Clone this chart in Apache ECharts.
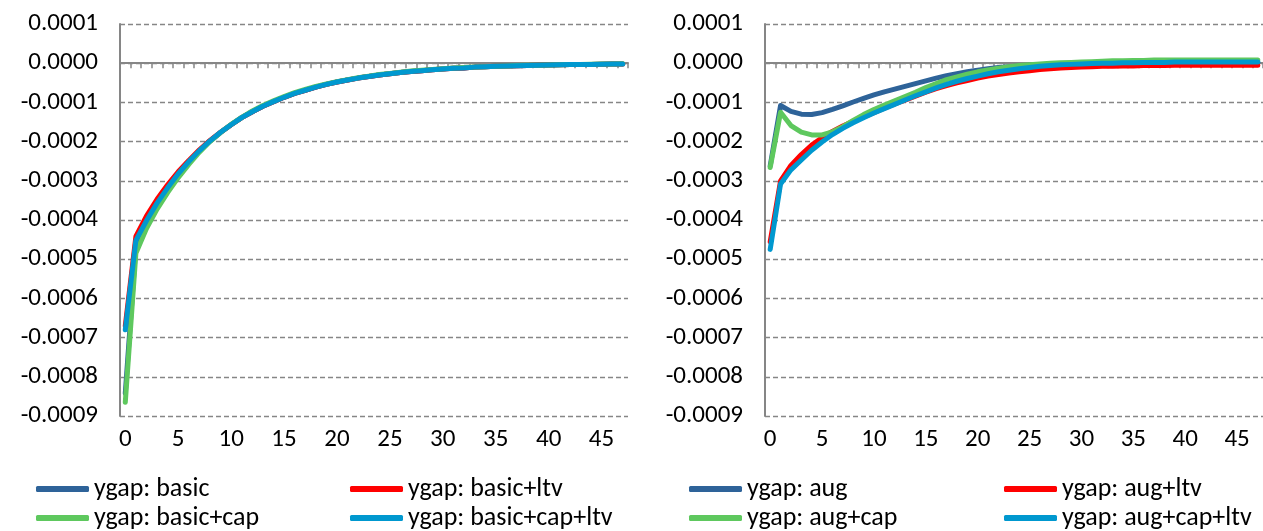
<!DOCTYPE html>
<html>
<head>
<meta charset="utf-8">
<script src="https://cdn.jsdelivr.net/npm/echarts@6/dist/echarts.min.js"></script>
<style>
  html, body { margin: 0; padding: 0; background: #fff; overflow: hidden; }
  #chart { width: 1263px; height: 531px; }
</style>
</head>
<body>
<div id="chart"></div>
<script>
// Periods after the shock (0..47)
const steps = ['0','1','2','3','4','5','6','7','8','9','10','11','12','13','14','15','16','17','18','19',
  '20','21','22','23','24','25','26','27','28','29','30','31','32','33','34','35','36','37','38','39',
  '40','41','42','43','44','45','46','47'];

// Output gap responses, basic model
const ygapBasic = [-8.42e-4,-4.65e-4,-4.08e-4,-3.62e-4,-3.21e-4,-2.85e-4,-2.52e-4,-2.24e-4,-1.99e-4,-1.77e-4,
  -1.57e-4,-1.39e-4,-1.24e-4,-1.10e-4,-0.98e-4,-0.87e-4,-0.77e-4,-0.69e-4,-0.61e-4,-0.54e-4,
  -0.48e-4,-0.43e-4,-0.38e-4,-0.34e-4,-0.30e-4,-0.27e-4,-0.24e-4,-0.21e-4,-0.19e-4,-0.17e-4,
  -0.15e-4,-0.13e-4,-0.12e-4,-0.10e-4,-0.09e-4,-0.08e-4,-0.07e-4,-0.065e-4,-0.06e-4,-0.05e-4,
  -0.045e-4,-0.04e-4,-0.035e-4,-0.03e-4,-0.03e-4,-0.025e-4,-0.02e-4,-0.02e-4];
const ygapBasicLtv = [-6.70e-4,-4.42e-4,-3.90e-4,-3.47e-4,-3.10e-4,-2.77e-4,-2.48e-4,-2.21e-4,-1.97e-4,-1.76e-4,
  -1.57e-4,-1.39e-4,-1.24e-4,-1.10e-4,-0.98e-4,-0.87e-4,-0.77e-4,-0.69e-4,-0.61e-4,-0.54e-4,
  -0.48e-4,-0.43e-4,-0.38e-4,-0.34e-4,-0.30e-4,-0.27e-4,-0.24e-4,-0.21e-4,-0.19e-4,-0.17e-4,
  -0.15e-4,-0.13e-4,-0.12e-4,-0.10e-4,-0.09e-4,-0.08e-4,-0.07e-4,-0.065e-4,-0.06e-4,-0.05e-4,
  -0.045e-4,-0.04e-4,-0.035e-4,-0.03e-4,-0.03e-4,-0.025e-4,-0.02e-4,-0.02e-4];
const ygapBasicCap = [-8.65e-4,-4.85e-4,-4.22e-4,-3.72e-4,-3.30e-4,-2.92e-4,-2.58e-4,-2.27e-4,-2.00e-4,-1.77e-4,
  -1.56e-4,-1.38e-4,-1.22e-4,-1.08e-4,-0.96e-4,-0.85e-4,-0.75e-4,-0.67e-4,-0.59e-4,-0.53e-4,
  -0.47e-4,-0.42e-4,-0.37e-4,-0.33e-4,-0.29e-4,-0.26e-4,-0.23e-4,-0.20e-4,-0.18e-4,-0.16e-4,
  -0.14e-4,-0.12e-4,-0.11e-4,-0.10e-4,-0.09e-4,-0.08e-4,-0.07e-4,-0.06e-4,-0.055e-4,-0.05e-4,
  -0.045e-4,-0.04e-4,-0.035e-4,-0.03e-4,-0.025e-4,-0.02e-4,-0.02e-4,-0.015e-4];
const ygapBasicCapLtv = [-6.80e-4,-4.52e-4,-4.02e-4,-3.57e-4,-3.18e-4,-2.82e-4,-2.51e-4,-2.23e-4,-1.98e-4,-1.76e-4,
  -1.57e-4,-1.39e-4,-1.24e-4,-1.10e-4,-0.98e-4,-0.87e-4,-0.77e-4,-0.69e-4,-0.61e-4,-0.54e-4,
  -0.48e-4,-0.43e-4,-0.38e-4,-0.34e-4,-0.30e-4,-0.27e-4,-0.24e-4,-0.21e-4,-0.19e-4,-0.17e-4,
  -0.15e-4,-0.13e-4,-0.12e-4,-0.10e-4,-0.09e-4,-0.08e-4,-0.07e-4,-0.065e-4,-0.06e-4,-0.05e-4,
  -0.045e-4,-0.04e-4,-0.035e-4,-0.03e-4,-0.03e-4,-0.025e-4,-0.02e-4,-0.02e-4];

// Output gap responses, augmented model
const ygapAug = [-2.62e-4,-1.08e-4,-1.23e-4,-1.30e-4,-1.31e-4,-1.26e-4,-1.18e-4,-1.09e-4,-0.99e-4,-0.90e-4,
  -0.81e-4,-0.73e-4,-0.66e-4,-0.59e-4,-0.52e-4,-0.45e-4,-0.38e-4,-0.32e-4,-0.27e-4,-0.22e-4,
  -0.18e-4,-0.14e-4,-0.11e-4,-0.09e-4,-0.07e-4,-0.05e-4,-0.04e-4,-0.03e-4,-0.02e-4,-0.01e-4,
  0.00e-4,0.00e-4,0.01e-4,0.01e-4,0.01e-4,0.02e-4,0.02e-4,0.02e-4,0.02e-4,0.02e-4,
  0.02e-4,0.02e-4,0.02e-4,0.02e-4,0.02e-4,0.02e-4,0.02e-4,0.02e-4];
const ygapAugLtv = [-4.55e-4,-3.00e-4,-2.61e-4,-2.33e-4,-2.09e-4,-1.90e-4,-1.74e-4,-1.60e-4,-1.48e-4,-1.37e-4,
  -1.26e-4,-1.15e-4,-1.04e-4,-0.94e-4,-0.84e-4,-0.74e-4,-0.65e-4,-0.57e-4,-0.50e-4,-0.44e-4,
  -0.38e-4,-0.33e-4,-0.29e-4,-0.25e-4,-0.22e-4,-0.19e-4,-0.16e-4,-0.14e-4,-0.12e-4,-0.11e-4,
  -0.10e-4,-0.09e-4,-0.08e-4,-0.08e-4,-0.07e-4,-0.07e-4,-0.06e-4,-0.06e-4,-0.06e-4,-0.05e-4,
  -0.05e-4,-0.05e-4,-0.05e-4,-0.05e-4,-0.05e-4,-0.05e-4,-0.05e-4,-0.05e-4];
const ygapAugCap = [-2.66e-4,-1.25e-4,-1.59e-4,-1.76e-4,-1.83e-4,-1.83e-4,-1.75e-4,-1.62e-4,-1.46e-4,-1.31e-4,
  -1.18e-4,-1.07e-4,-0.96e-4,-0.85e-4,-0.74e-4,-0.62e-4,-0.52e-4,-0.42e-4,-0.35e-4,-0.28e-4,
  -0.22e-4,-0.17e-4,-0.13e-4,-0.09e-4,-0.06e-4,-0.04e-4,-0.02e-4,0.00e-4,0.01e-4,0.02e-4,
  0.03e-4,0.04e-4,0.05e-4,0.06e-4,0.06e-4,0.07e-4,0.07e-4,0.08e-4,0.08e-4,0.08e-4,
  0.08e-4,0.08e-4,0.08e-4,0.08e-4,0.08e-4,0.08e-4,0.08e-4,0.08e-4];
const ygapAugCapLtv = [-4.75e-4,-3.08e-4,-2.72e-4,-2.47e-4,-2.22e-4,-2.01e-4,-1.82e-4,-1.66e-4,-1.52e-4,-1.39e-4,
  -1.27e-4,-1.16e-4,-1.05e-4,-0.94e-4,-0.83e-4,-0.73e-4,-0.63e-4,-0.54e-4,-0.46e-4,-0.39e-4,
  -0.33e-4,-0.27e-4,-0.22e-4,-0.18e-4,-0.14e-4,-0.11e-4,-0.08e-4,-0.06e-4,-0.04e-4,-0.03e-4,
  -0.02e-4,-0.01e-4,0.00e-4,0.00e-4,0.01e-4,0.01e-4,0.02e-4,0.02e-4,0.02e-4,0.03e-4,
  0.03e-4,0.03e-4,0.03e-4,0.03e-4,0.03e-4,0.03e-4,0.03e-4,0.03e-4];

const seriesNamesLeft = ['ygap: basic', 'ygap: basic+ltv', 'ygap: basic+cap', 'ygap: basic+cap+ltv'];
const seriesNamesRight = ['ygap: aug', 'ygap: aug+ltv', 'ygap: aug+cap', 'ygap: aug+cap+ltv'];
const colors = ['#2e6399', '#ff0000', '#5ec85e', '#0098cf'];

const FONT = 'Carlito, Lato, sans-serif';
const FS_AXIS = 25;
const FS_LEGEND = 26;
const AXIS_GRAY = '#868686';

const chart = echarts.init(document.getElementById('chart'), null, { renderer: 'canvas' });

function yAxisFor(gridIndex) {
  return {
    type: 'value', gridIndex,
    min: -0.0009, max: 0.0001, interval: 0.0001,
    axisLine: { show: true, lineStyle: { color: AXIS_GRAY, width: 2 } },
    axisTick: { show: false },
    axisLabel: {
      color: '#000', fontFamily: FONT, fontSize: FS_AXIS, margin: 22,
      formatter: v => (Math.abs(v) < 1e-12 ? 0 : v).toFixed(4)
    },
    splitLine: { show: true, lineStyle: { color: AXIS_GRAY, width: 1.3, type: [5, 3] } }
  };
}

// category axis drawn along y = 0, carrying the tick marks
function zeroAxisFor(gridIndex) {
  return {
    type: 'category', gridIndex, data: steps, boundaryGap: true, position: 'bottom',
    axisLine: { show: true, onZero: true, lineStyle: { color: AXIS_GRAY, width: 2 } },
    axisTick: { show: true, interval: 0, length: 5, lineStyle: { color: AXIS_GRAY, width: 1.5 } },
    axisLabel: { show: false },
    splitLine: { show: false }
  };
}

// matching category axis at the bottom of the plot, carrying the labels
function labelAxisFor(gridIndex) {
  return {
    type: 'category', gridIndex, data: steps, boundaryGap: true, position: 'bottom',
    axisLine: { show: false, onZero: false },
    axisTick: { show: false },
    axisLabel: { show: true, interval: 4, color: '#000', fontFamily: FONT, fontSize: FS_AXIS, margin: 11 },
    splitLine: { show: false }
  };
}

function lineSeries(name, data, color, xAxisIndex, yAxisIndex) {
  return {
    type: 'line', name, data, xAxisIndex, yAxisIndex,
    symbol: 'none', smooth: false,
    lineStyle: { color, width: 5, cap: 'round', join: 'round' },
    itemStyle: { color },
    emphasis: { disabled: true }
  };
}

function legendItem(name, left, top) {
  return {
    left, top, data: [name], padding: 0,
    icon: 'roundRect', itemWidth: 53, itemHeight: 6,
    selectedMode: false,
    textStyle: { color: '#000', fontFamily: FONT, fontSize: FS_LEGEND, lineHeight: 28 }
  };
}

const ROW1 = 475, ROW2 = 504;

const option = {
  backgroundColor: '#fff',
  animation: false,
  grid: [
    { left: 120, top: 24, width: 508, height: 392 },
    { left: 765, top: 24, width: 508, height: 392 }
  ],
  xAxis: [zeroAxisFor(0), labelAxisFor(0), zeroAxisFor(1), labelAxisFor(1)],
  yAxis: [yAxisFor(0), yAxisFor(1)],
  legend: [
    legendItem(seriesNamesLeft[0], 36, ROW1),
    legendItem(seriesNamesLeft[1], 350, ROW1),
    legendItem(seriesNamesLeft[2], 36, ROW2),
    legendItem(seriesNamesLeft[3], 350, ROW2),
    legendItem(seriesNamesRight[0], 689, ROW1),
    legendItem(seriesNamesRight[1], 1004, ROW1),
    legendItem(seriesNamesRight[2], 689, ROW2),
    legendItem(seriesNamesRight[3], 1004, ROW2)
  ],
  series: [
    lineSeries(seriesNamesLeft[0], ygapBasic, colors[0], 0, 0),
    lineSeries(seriesNamesLeft[1], ygapBasicLtv, colors[1], 0, 0),
    lineSeries(seriesNamesLeft[2], ygapBasicCap, colors[2], 0, 0),
    lineSeries(seriesNamesLeft[3], ygapBasicCapLtv, colors[3], 0, 0),
    lineSeries(seriesNamesRight[0], ygapAug, colors[0], 2, 1),
    lineSeries(seriesNamesRight[1], ygapAugLtv, colors[1], 2, 1),
    lineSeries(seriesNamesRight[2], ygapAugCap, colors[2], 2, 1),
    lineSeries(seriesNamesRight[3], ygapAugCapLtv, colors[3], 2, 1)
  ]
};

chart.setOption(option);
</script>
</body>
</html>
